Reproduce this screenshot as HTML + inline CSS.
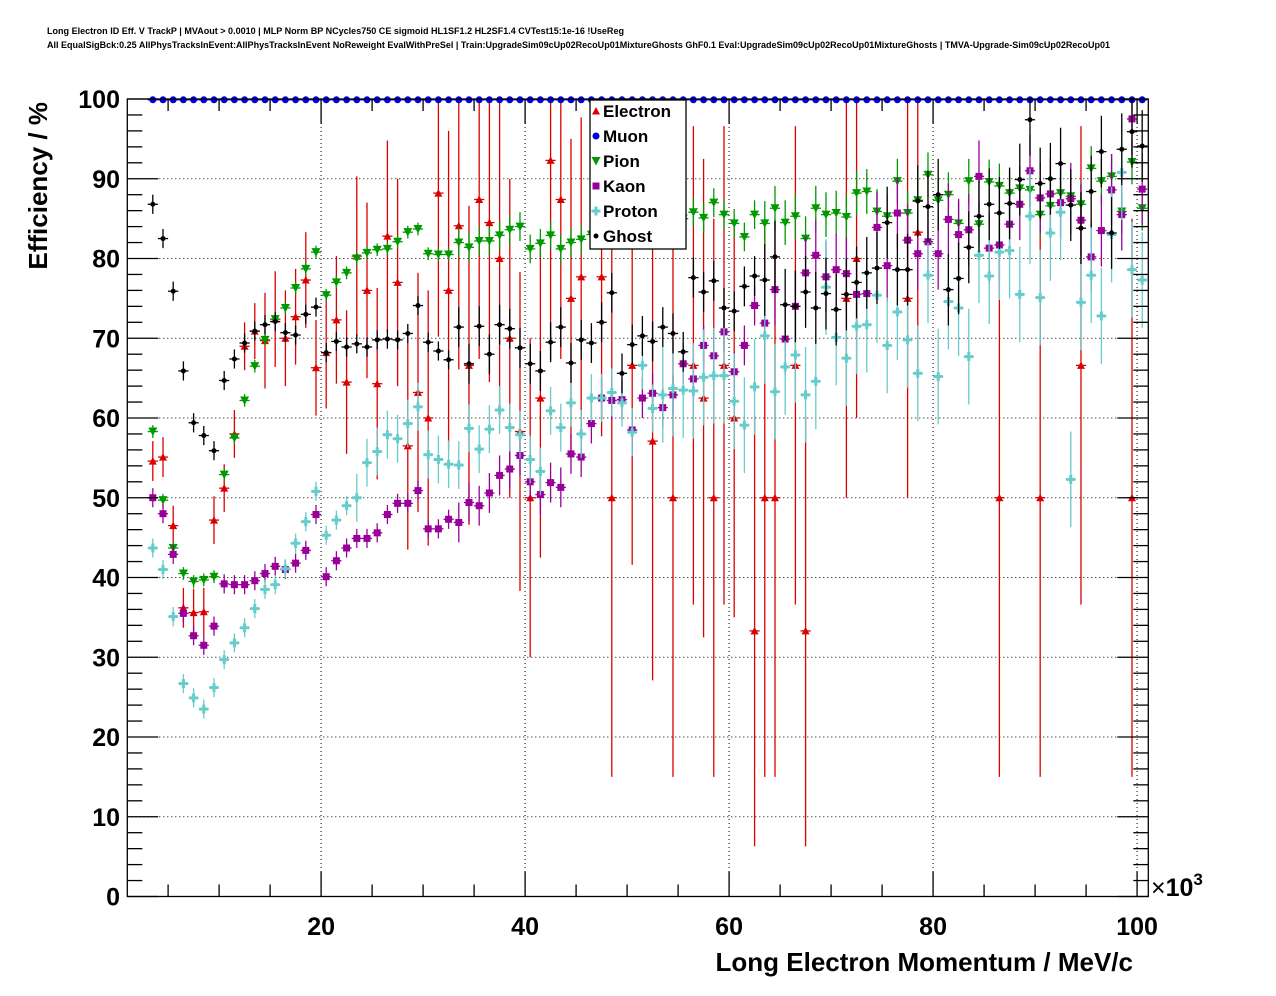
<!DOCTYPE html>
<html><head><meta charset="utf-8">
<style>
html,body{margin:0;padding:0;background:#fff;}
svg{display:block;font-family:"Liberation Sans",Arial,sans-serif;}
</style></head>
<body>
<svg id="chart" width="1276" height="996" viewBox="0 0 1276 996" xmlns="http://www.w3.org/2000/svg">
<rect x="0" y="0" width="1276" height="996" fill="#fff"/>
<text x="47" y="34" font-size="9" font-weight="bold" textLength="577" lengthAdjust="spacingAndGlyphs">Long Electron ID Eff. V TrackP | MVAout &gt; 0.0010 | MLP Norm BP NCycles750 CE sigmoid HL1SF1.2 HL2SF1.4 CVTest15:1e-16 !UseReg</text>
<text x="47" y="48" font-size="9" font-weight="bold" textLength="1063" lengthAdjust="spacingAndGlyphs">All EqualSigBck:0.25 AllPhysTracksInEvent:AllPhysTracksInEvent NoReweight EvalWithPreSel | Train:UpgradeSim09cUp02RecoUp01MixtureGhosts GhF0.1 Eval:UpgradeSim09cUp02RecoUp01MixtureGhosts | TMVA-Upgrade-Sim09cUp02RecoUp01</text>
<g id="grid"></g>
<g id="marks"></g>
<g id="axes"></g>
<g id="legend"></g>
</svg>
<script>
// ---- data ----
const binStart = 3.5; // first bin center (x 10^3 MeV/c)
const binCount = 98;
const electron = [54.6,55.1,46.5,36.2,35.6,35.7,47.2,51.2,58,69,
70.9,69.7,72.4,70,72.7,77.3,66.3,68.2,72.3,64.5,
80.3,76,64.3,82.8,77,56.5,63.2,60,88.2,76,
84.1,66.6,87.4,84.5,80,70,58.3,50,62.5,92.3,
87.4,75,77.7,null,77.7,50,null,66.6,null,57.1,
null,50,null,66.6,62.5,50,66.6,60,null,33.3,
50,50,null,66.6,33.3,null,null,null,75,80,
null,null,null,null,75,83.3,null,null,null,null,
null,null,null,50,null,null,null,50,null,null,
null,66.6,null,null,null,null,50,null];
const electronErr = [2.5,2.5,2.5,2.5,3,3,3,3,3,3,
3.5,6,6,6,6,6,6,7,8,9,
10,11,12,12,13,13,15,16,18,20,
18,20,20,20,20,20,20,20,20,25,
20,20,20,0,20,35,0,25,0,30,
0,35,0,30,30,35,30,25,0,27,
35,35,0,30,27,0,0,0,25,20,
0,0,0,0,25,17,0,0,0,0,
0,0,0,35,0,0,0,35,0,0,
0,30,0,0,0,0,35,0];
const muon = [99.9,99.9,99.9,99.9,99.9,99.9,99.9,99.9,99.9,99.9,
99.9,99.9,99.9,99.9,99.9,99.9,99.9,99.9,99.9,99.9,
99.9,99.9,99.9,99.9,99.9,99.9,99.9,99.9,99.9,99.9,
99.9,99.9,99.9,99.9,99.9,99.9,99.9,99.9,99.9,99.9,
99.9,99.9,99.9,99.9,99.9,99.9,99.9,99.9,99.9,99.9,
99.9,99.9,99.9,99.9,99.9,99.9,99.9,99.9,99.9,99.9,
99.9,99.9,99.9,99.9,99.9,99.9,99.9,99.9,99.9,99.9,
99.9,99.9,99.9,99.9,99.9,99.9,99.9,99.9,99.9,99.9,
99.9,99.9,99.9,99.9,99.9,99.9,99.9,99.9,99.9,99.9,
99.9,99.9,99.9,99.9,99.9,99.9,99.9,99.9];
const pion = [58.3,49.7,43.7,40.5,39.5,39.7,40.1,52.9,57.5,62.2,
66.5,69.8,72.4,73.8,76.3,78.7,80.8,75.4,77,78.2,
80,80.7,81.1,81.2,82.1,83.3,83.7,80.6,80.5,80.5,
82,81.4,82.2,82.2,82.9,83.6,84,81.2,81.9,82.9,
81.2,82,82.4,83,84,84,83,85,84,84,
85,84,85,85.8,85.1,87,85.5,84.4,82.7,85.5,
84.4,86.3,84.5,85.3,82.5,86.3,85.5,85.7,85.2,88.2,
88.4,85.9,85.3,89.7,85.7,87.3,90.5,87.3,88,84.4,
89.7,84.3,89.6,89.1,88.2,88.8,88.6,85.5,86.6,88.2,
87.8,86.8,91.3,89.7,90.3,85.9,92.1,86.3];
const kaon = [50,48,42.9,35.5,32.7,31.5,33.9,39.2,39.1,39.1,
39.6,40.5,41.4,41,41.8,43.4,47.9,40.1,42.1,43.7,
44.9,44.9,45.6,47.9,49.3,49.3,50.9,46.1,46.1,47.3,
46.9,49.4,49,50.6,52.8,53.6,55.3,52,50.4,51.9,
51.3,55.5,55.1,59.3,62.5,62.2,62.3,58.5,62.5,63.1,
61.3,62.9,66.8,64.9,69.1,67.8,70.8,65.8,69.1,74.1,
71.9,76.1,69.9,74,78.2,80.4,77.7,78.6,78.1,75.5,
75.6,83.9,79.1,85.7,82.3,80.6,82.1,80.6,84.9,83,
83.6,90.3,81.3,81.7,84.3,86.8,91,87.6,88.1,87,
87.5,84.8,80.2,83.5,88.6,85.5,97.5,88.7];
const proton = [43.7,41,35.1,26.7,24.9,23.5,26.2,29.7,31.8,33.7,
36.1,38.5,39.1,41.1,44.3,47,50.8,45.3,47.2,49,
50,54.4,55.8,57.9,57.4,59.3,61.4,55.4,54.8,54.2,
54.1,58.7,56.1,58.6,61,58.8,57.9,54.8,53.3,60.9,
58.8,61.9,58,62.5,62.5,63.2,61.9,58.2,66.6,61.2,
62.9,63.7,63.5,63.4,65.1,65.3,65.3,62.1,59.1,63.9,
70.3,63.3,66.4,67.9,62.9,64.6,76.4,70.1,67.5,71.5,
71.7,75.4,69.1,73.3,69.8,65.6,77.9,65.2,74.6,73.8,
67.7,80.4,77.8,80.8,81,75.5,85.3,75.1,83.2,85.8,
52.3,74.5,77.9,72.8,83,90.8,78.6,77.3];
const ghost = [86.8,82.5,75.9,65.9,59.4,57.8,55.9,64.7,67.4,69.4,
70.9,71.7,72.1,70.7,70.4,73,73.9,68.2,69.6,68.9,
69.3,68.9,69.8,69.9,69.8,70.6,74.1,69.5,68.4,67.3,
71.4,66.8,71.5,68,71.7,71.2,68.8,66.8,65.9,69.5,
71.4,66.9,69.8,69.4,72,75.7,65.6,69.2,70.3,69.6,
71.4,70.6,68.3,77.6,75.8,77.2,73.8,73.4,76.5,77.8,
77.3,80.2,74.2,74,75.8,73.8,75.6,73.6,75.5,77,
78.2,78.8,84.5,78.6,78.6,87.2,86.5,88,76.1,77.5,
81.4,85.3,86.8,85.7,86.9,89.9,97.4,89.4,90,91.9,
86.7,83.8,88.4,93.4,83.2,93.7,95.9,94.1];
const xTickLabels = ["20","40","60","80","100"];
const xTickValues = [20,40,60,80,100];
const yTickValues = [0,10,20,30,40,50,60,70,80,90,100];

// ---- layout ----
const L=127.3, R=1148.3, T=99, B=896.5;
const XMIN=1.0, XMAX=101.1;
const xs = v => L + (v-XMIN)*(R-L)/(XMAX-XMIN);
const ys = v => B - v*(B-T)/100;
const NS="http://www.w3.org/2000/svg";
function mk(tag, attrs, parent){
  const e=document.createElementNS(NS,tag);
  for(const k in attrs) e.setAttribute(k,attrs[k]);
  parent.appendChild(e); return e;
}
const grid=document.getElementById('grid');
const marks=document.getElementById('marks');
const axes=document.getElementById('axes');
const legend=document.getElementById('legend');

// grid
xTickValues.forEach(v=>{
  const g=mk('line',{x1:xs(v),x2:xs(v),y1:T,y2:B,stroke:'#000','stroke-width':1,'stroke-dasharray':'1,3'},grid);
  
  
});
yTickValues.forEach(v=>{
  if(v===0||v===100) return;
  const g=mk('line',{x1:L,x2:R,y1:ys(v),y2:ys(v),stroke:'#000','stroke-width':1,'stroke-dasharray':'1,3'},grid);
  
  
});

// series drawing
function clampY(v){return Math.max(0,Math.min(100,v));}
function drawSeries(name,vals,errFn,color,marker){
  const g=mk('g',{},marks);
  
  
  vals.forEach((v,i)=>{
    if(v===null||v===undefined) return;
    const c=binStart+i;
    const cx=xs(c), cy=ys(v);
    const e=errFn(i,v);
    const p=mk('g',{},g);
    
    
    mk('line',{x1:xs(c-0.5),x2:xs(c+0.5),y1:cy,y2:cy,stroke:color,'stroke-width':1.3},p);
    if(e>0){
      mk('line',{x1:cx,x2:cx,y1:ys(clampY(v+e)),y2:ys(clampY(v-e)),stroke:color,'stroke-width':1.3},p);
    }
    marker(p,cx,cy,color);
  });
}
const triUp=(p,x,y,c)=>mk('polygon',{points:`${x-4},${y+3.5} ${x+4},${y+3.5} ${x},${y-4}`,fill:c},p);
const triDown=(p,x,y,c)=>mk('polygon',{points:`${x-4.5},${y-4} ${x+4.5},${y-4} ${x},${y+4.5}`,fill:c},p);
const circ=(p,x,y,c)=>mk('circle',{cx:x,cy:y,r:3.5,fill:c},p);
const sq=(p,x,y,c)=>mk('rect',{x:x-3.5,y:y-3.5,width:7,height:7,fill:c},p);
const cross=(p,x,y,c)=>{mk('rect',{x:x-4.5,y:y-1.5,width:9,height:3,fill:c},p);mk('rect',{x:x-1.5,y:y-4.5,width:3,height:9,fill:c},p);};
const dot=(p,x,y,c)=>mk('circle',{cx:x,cy:y,r:2.5,fill:c},p);

const RED='#dd0000',BLUE='#0000e0',GREEN='#009900',PURPLE='#990099',CYAN='#66cccc',BLACK='#000';
drawSeries('electron',electron,(i)=>electronErr[i],RED,triUp);
drawSeries('muon',muon,()=>0,BLUE,circ);
drawSeries('pion',pion,(i)=>i<30?0.8:(i<60?1.8:2.8),GREEN,triDown);
drawSeries('kaon',kaon,(i)=>i<30?1.2:(i<60?2.5:4.5),PURPLE,sq);
drawSeries('proton',proton,(i)=>i<20?1.2:(i<50?3:6),CYAN,cross);
drawSeries('ghost',ghost,(i)=>i<30?1.2:(i<60?2.5:4.5),BLACK,dot);

// frame
const fr=mk('rect',{x:L,y:T,width:R-L,height:B-T,fill:'none',stroke:'#000','stroke-width':1.3},axes);


// x ticks (major every 20, minor every 5) on bottom and top
for(let v=5; v<=XMAX; v+=5){
  const major = v%20===0;
  const len = major?25:12;
  mk('line',{x1:xs(v),x2:xs(v),y1:B,y2:B-len,stroke:'#000','stroke-width':1.3},axes);
  mk('line',{x1:xs(v),x2:xs(v),y1:T,y2:T+len,stroke:'#000','stroke-width':1.3},axes);
}
// y ticks (major every 10, minor every 2) left and right
for(let v=0; v<=100; v+=2){
  const major = v%10===0;
  const len = major?31:15;
  mk('line',{x1:L,x2:L+len,y1:ys(v),y2:ys(v),stroke:'#000','stroke-width':1.3},axes);
  mk('line',{x1:R,x2:R-len,y1:ys(v),y2:ys(v),stroke:'#000','stroke-width':1.3},axes);
}
xTickValues.forEach((v,k)=>{
  const t=mk('text',{x:xs(v),y:935,'text-anchor':'middle','font-size':25,'font-weight':'bold'},axes);
  t.textContent=xTickLabels[k];
  
  
});
yTickValues.forEach(v=>{
  const t=mk('text',{x:120,y:ys(v)+9,'text-anchor':'end','font-size':25,'font-weight':'bold'},axes);
  t.textContent=String(v);
  
  
});
const xm=mk('text',{x:1151,y:896,'font-size':25,'font-weight':'bold'},axes);
xm.innerHTML='<tspan font-weight="normal">×</tspan>10<tspan dy="-11" font-size="17">3</tspan>';


const xt=mk('text',{x:1133,y:971,'text-anchor':'end','font-size':26,'font-weight':'bold'},axes);
xt.textContent='Long Electron Momentum / MeV/c';


const yt=mk('text',{x:0,y:0,'text-anchor':'end','font-size':26,'font-weight':'bold',transform:'translate(47,102) rotate(-90)'},axes);
yt.textContent='Efficiency / %';



// legend
const lb=mk('rect',{x:590,y:100,width:96,height:149,fill:'#fff',stroke:'#000','stroke-width':1.3},legend);


const legNames=['Electron','Muon','Pion','Kaon','Proton','Ghost'];
const legColors=[RED,BLUE,GREEN,PURPLE,CYAN,BLACK];
const legMarkers=[triUp,circ,triDown,sq,cross,dot];
legNames.forEach((n,k)=>{
  const g=mk('g',{},legend);
  
  
  const yb=117+k*25;
  legMarkers[k](g,596,yb-6,legColors[k]);
  const t=mk('text',{x:603,y:yb,'font-size':17,'font-weight':'bold'},g);
  t.textContent=n;
});
</script>
</body></html>
